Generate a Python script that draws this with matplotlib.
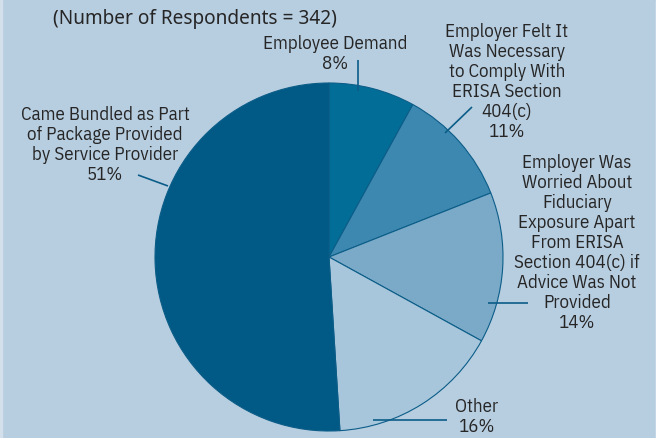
import matplotlib
matplotlib.use("Agg")
import matplotlib.pyplot as plt
from matplotlib.patches import Rectangle

# Survey shares, clockwise from 12 o'clock
labels = [
    "Employee Demand",
    "Employer Felt It\nWas Necessary\nto Comply With\nERISA Section\n404(c)",
    "Employer Was\nWorried About\nFiduciary\nExposure Apart\nFrom ERISA\nSection 404(c) if\nAdvice Was Not\nProvided",
    "Other",
    "Came Bundled as Part\nof Package Provided\nby Service Provider",
]
shares = [8, 11, 14, 16, 51]
colors = ["#026e98", "#3c88b0", "#7aaac8", "#a8c6db", "#015a85"]
title = "(Number of Respondents = 342)"

bg = "#b7cde0"
ink = "#262626"
line_c = "#0b5d88"
W, H = 662, 438

plt.rcParams["font.family"] = ["IBM Plex Sans Condensed", "Archivo Narrow", "DejaVu Sans"]

fig = plt.figure(figsize=(W / 100, H / 100), dpi=100, facecolor=bg)
ax = fig.add_axes([0, 0, 1, 1])
ax.set_facecolor(bg)

def py(y):
    # pixel rows counted from the top
    return H - y

ax.pie(shares, colors=colors, startangle=90, counterclock=False,
       center=(329, py(257)), radius=174, frame=True,
       wedgeprops=dict(edgecolor=line_c, linewidth=0.8))

ax.set_xlim(0, W)
ax.set_ylim(0, H)
ax.set_aspect("equal")
ax.axis("off")

ax.text(194.5, py(19), title, ha="center", va="center", fontsize=13.7,
        color=ink, family=["Noto Sans", "DejaVu Sans"])

# label text blocks: (x, top-line y, text)
fs = 13.6
blocks = [
    (335, 44, labels[0]),
    (507, 32, labels[1]),
    (577, 163, labels[2]),
    (477, 407, labels[3]),
    (105, 115, labels[4]),
]
step = 20
for (x, y0, txt), s in zip(blocks, shares):
    lines = txt.split("\n") + [f"{s}%"]
    for i, ln in enumerate(lines):
        ax.text(x, py(y0 + i * step), ln, ha="center", va="center",
                fontsize=fs, color=ink)

# leader lines
leaders = [
    ((358, 60), (358, 91)),
    ((472, 107), (445, 133)),
    ((528, 303), (488, 303)),
    ((447, 420), (373, 420)),
    ((138, 175), (168, 186)),
]
for (x0, y0), (x1, y1) in leaders:
    ax.plot([x0, x1], [py(y0), py(y1)], color=line_c, lw=1.2,
            solid_capstyle="butt")

# page edges
ax.add_patch(Rectangle((656, 0), 6, H, color="white", zorder=5))
ax.add_patch(Rectangle((0, 0), 2, H, color="#d3dfeb", zorder=5))

fig.savefig("out.png", dpi=100, facecolor=bg)
